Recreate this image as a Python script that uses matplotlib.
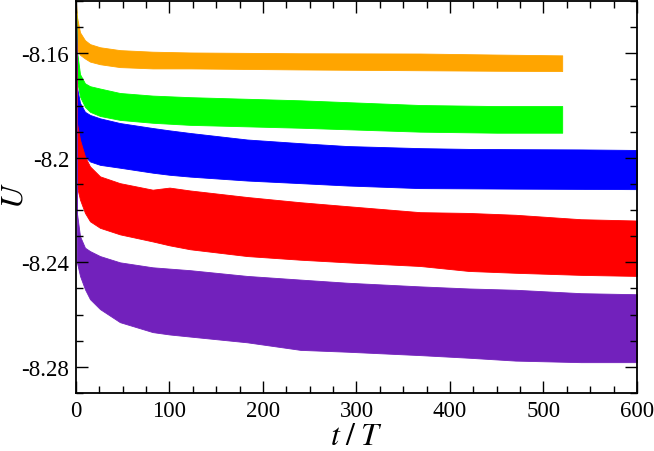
import matplotlib
matplotlib.use('Agg')
import matplotlib.pyplot as plt
from matplotlib.ticker import MultipleLocator, FuncFormatter

# envelopes of each band (upper / lower edge)
t_short = [0, 1, 4.3, 9.6, 15, 25.7, 47, 82, 122, 240, 368, 450, 520]
orange_hi = [-8.1405, -8.1460, -8.1520, -8.1550, -8.1565, -8.1577, -8.1588, -8.1594, -8.1597, -8.1600, -8.1601, -8.1605, -8.1608]
orange_lo = [-8.1410, -8.1585, -8.1606, -8.1620, -8.1632, -8.1642, -8.1653, -8.1658, -8.1658, -8.1662, -8.1665, -8.1667, -8.1668]
green_hi = [-8.1410, -8.1590, -8.1680, -8.1715, -8.1726, -8.1735, -8.1752, -8.1762, -8.1768, -8.1780, -8.1798, -8.1802, -8.1802]
green_lo = [-8.1420, -8.1703, -8.1766, -8.1805, -8.1824, -8.1840, -8.1855, -8.1866, -8.1874, -8.1885, -8.1900, -8.1904, -8.1904]

t_long = [0, 1, 4.3, 9.6, 15, 25.7, 47, 82, 100, 122, 183, 240, 290, 368, 420, 470, 540, 600]
blue_hi = [-8.1410, -8.1730, -8.1790, -8.1824, -8.1836, -8.1849, -8.1867, -8.1886, -8.1895, -8.1905, -8.1930, -8.1944, -8.1955, -8.1963, -8.1966, -8.1967, -8.1968, -8.1970]
blue_lo = [-8.1420, -8.1900, -8.1957, -8.1995, -8.2014, -8.2027, -8.2038, -8.2057, -8.2065, -8.2072, -8.2087, -8.2097, -8.2106, -8.2116, -8.2117, -8.2118, -8.2119, -8.2120]
red_hi = [-8.1420, -8.1867, -8.1931, -8.1995, -8.2033, -8.2071, -8.2097, -8.2122, -8.2114, -8.2125, -8.2150, -8.2170, -8.2185, -8.2208, -8.2211, -8.2218, -8.2235, -8.2240]
red_lo = [-8.1430, -8.2110, -8.2160, -8.2211, -8.2243, -8.2268, -8.2293, -8.2320, -8.2335, -8.2350, -8.2376, -8.2390, -8.2400, -8.2414, -8.2433, -8.2440, -8.2448, -8.2452]
purple_hi = [-8.1430, -8.2211, -8.2300, -8.2344, -8.2357, -8.2376, -8.2400, -8.2419, -8.2424, -8.2430, -8.2452, -8.2466, -8.2478, -8.2492, -8.2500, -8.2505, -8.2518, -8.2522]
purple_lo = [-8.1440, -8.2400, -8.2452, -8.2503, -8.2541, -8.2579, -8.2629, -8.2667, -8.2676, -8.2684, -8.2706, -8.2735, -8.2742, -8.2755, -8.2765, -8.2776, -8.2782, -8.2782]

bands = [
    (t_short, orange_hi, orange_lo, '#ffa500'),
    (t_short, green_hi, green_lo, '#00ff00'),
    (t_long, blue_hi, blue_lo, '#0000ff'),
    (t_long, red_hi, red_lo, '#ff0000'),
    (t_long, purple_hi, purple_lo, '#7221bc'),
]

plt.rcParams['font.family'] = ['Liberation Serif', 'DejaVu Serif']
plt.rcParams['mathtext.fontset'] = 'stix'

fig = plt.figure(figsize=(6.54, 4.52), dpi=100)
ax = fig.add_axes([0.1162, 0.1283, 0.8578, 0.8673])

for t, hi, lo, c in bands:
    ax.fill_between(t, lo, hi, color=c, linewidth=0.6, edgecolor=c)

ax.set_xlim(0, 600)
ax.set_ylim(-8.29, -8.14)
ax.xaxis.set_major_locator(MultipleLocator(100))
ax.xaxis.set_minor_locator(MultipleLocator(25))
ax.yaxis.set_major_locator(MultipleLocator(0.04))
ax.yaxis.set_minor_locator(MultipleLocator(0.01))
ax.yaxis.set_major_formatter(FuncFormatter(lambda v, p: ('%g' % round(v, 2))))

ax.tick_params(which='both', direction='in', top=True, right=True, width=1.0, labelsize=16.5, pad=5)
ax.tick_params(which='major', length=8.6)
ax.tick_params(which='minor', length=5)
for s in ax.spines.values():
    s.set_linewidth(1.3)

ax.set_xlabel(r'$t\;/\;T$', fontsize=23, labelpad=1)
ax.set_ylabel(r'$U$', fontsize=23)
ax.yaxis.set_label_coords(-0.082, 0.505)

fig.savefig('out.png', dpi=100)
